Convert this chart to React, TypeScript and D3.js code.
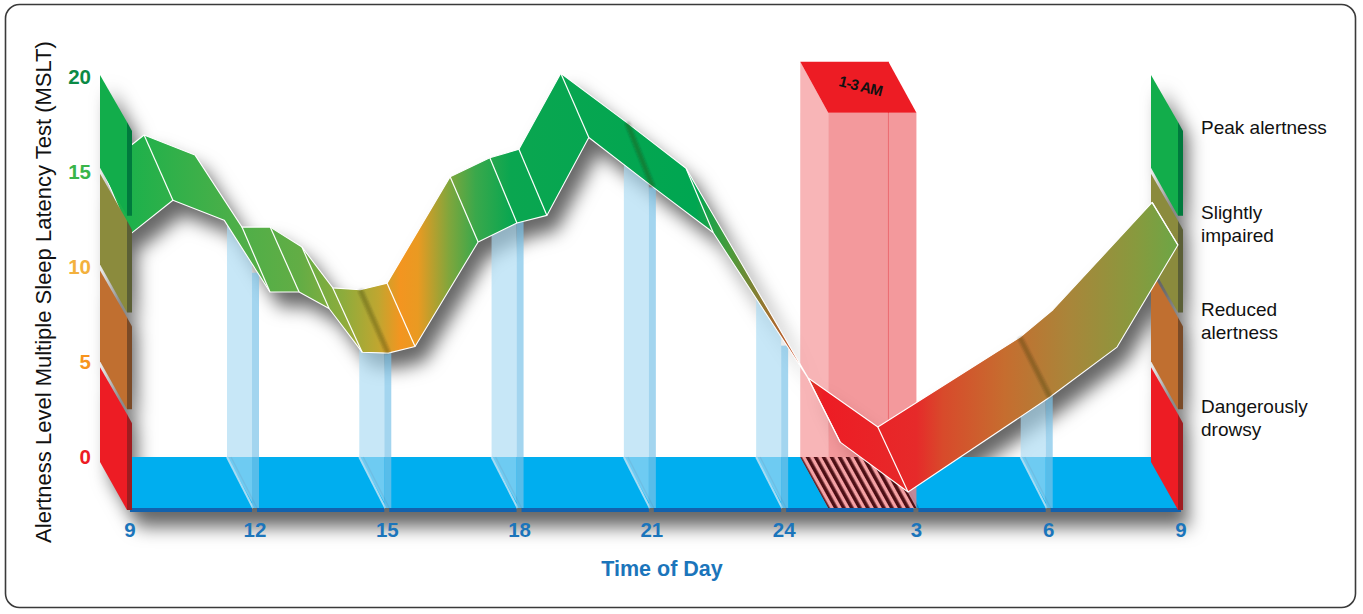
import React from 'react';
import * as d3 from 'd3';

// hours run from 9 in the morning to 33 (= 9 the next morning)
const hourTicks = [9, 12, 15, 18, 21, 24, 27, 30, 33];
const hourLabels = ['9', '12', '15', '18', '21', '24', '3', '6', '9'];
const pillarHours = [12, 15, 18, 21, 24, 30];
const nightWindow = [25, 27];
const nightLabel = '1-3 AM';
const nightTop = 20.8;

const levelTicks = [0, 5, 10, 15, 20];
const levelColors = ['#ed1c24', '#f7941d', '#f3b13d', '#39b54a', '#0b8a45'];

const zoneNames = [['Dangerously', 'drowsy'], ['Reduced', 'alertness'], ['Slightly', 'impaired'], ['Peak alertness']];
const zoneFace = ['#ed1c24', '#c06f30', '#8b8b3d', '#12ad4b'];
const zoneEdge = ['#a01c20', '#7a4a27', '#5b5f36', '#007a3d'];

// ribbon, back (upper) edge
const backHours = [9, 10.01, 11.23, 12.34, 12.98, 13.7, 14.4, 15.02, 15.63, 17.06, 17.96, 18.62, 19.57, 21.07, 22.41, 25.18, 26.76, 29.98, 30.73, 32.98];
const backLevel = [15.2, 16.95, 15.9, 12.1, 12.1, 11.05, 8.9, 8.8, 9.15, 14.75, 15.75, 16.2, 20.2, 17.6, 15.2, 4.16, 1.58, 6.3, 7.75, 13.4];
// ribbon, front (lower) edge
const frontHours = [9, 10.03, 11.26, 12.34, 13.0, 13.68, 14.43, 15.02, 15.63, 17.06, 17.94, 18.62, 19.57, 21.02, 22.39, 24.54, 25.27, 26.81, 30.03, 31.55, 32.93];
const frontLevel = [14.4, 16.2, 15.15, 11.37, 11.37, 10.5, 8.2, 8.15, 8.5, 14.0, 15.0, 15.4, 19.5, 16.9, 14.5, 6.84, 3.47, 0.84, 5.84, 8.47, 13.84];

// [back index, front index, kind] w = white fold, d = dark crease
const folds: [number, number, string][] = [
  [1, 1, 'w'], [3, 3, 'w'], [4, 4, 'w'], [5, 5, 'w'], [6, 6, 'w'], [7, 7, 'd'], [8, 8, 'w'],
  [9, 9, 'w'], [10, 10, 'w'], [11, 11, 'w'], [12, 12, 'w'], [13, 13, 'd'], [14, 14, 'w'],
  [15, 16, 'w'], [16, 17, 'w'], [17, 18, 'd'], [19, 20, 'w'],
];

const ribbonStops: [number, string][] = [
  [9, '#1db14b'], [11.5, '#4caf48'], [13, '#62ad45'], [14, '#8dac3c'], [14.8, '#c0a630'],
  [15.3, '#f39520'], [15.7, '#e99a22'], [16.4, '#80a63c'], [17, '#3aa84b'], [17.8, '#0aa650'],
  [22, '#00a651'], [22.8, '#4d9a3a'], [23.6, '#9a7430'], [24.4, '#d04a2a'], [24.9, '#ed1c24'],
  [27, '#e62a2a'], [27.6, '#d84a2b'], [29, '#c66d2f'], [30.5, '#a8863a'], [32, '#879a3e'], [33, '#6aa746'],
];

const FONT = "'Liberation Sans', Arial, Helvetica, sans-serif";
const BLUE = '#1b75bb';

type Pt = [number, number];

export default function App() {
  const width = 1363;
  const height = 614;

  const xFront = d3.scaleLinear().domain([9, 12, 33]).range([130, 255, 1181]);
  const xBack = (h: number) => xFront(h) - 28;
  const yFront = d3.scaleLinear().domain([0, 20]).range([508, 128]);
  const yBack = d3.scaleLinear().domain([0, 20]).range([457, 77]);
  const yWall = d3.scaleLinear().domain([0, 20]).range([462, 75]);

  const line = d3.line();
  const poly = (pts: Pt[]) => line(pts) + 'Z';

  const floorBack = yBack(0);
  const floorFront = yFront(0);

  const backPts: Pt[] = backHours.map((h, i) => [xBack(h), yBack(backLevel[i])]);
  const frontPts: Pt[] = frontHours.map((h, i) => [xFront(h), yFront(frontLevel[i])]);
  const ribbonPath = poly([...backPts, ...frontPts.slice().reverse()]);

  const bis = d3.bisector((p: Pt) => p[0]).left;
  const frontY = (x: number) => {
    const i = Math.max(1, Math.min(frontPts.length - 1, bis(frontPts, x)));
    const [x0, y0] = frontPts[i - 1];
    const [x1, y1] = frontPts[i];
    return y0 + ((y1 - y0) * (x - x0)) / (x1 - x0);
  };

  const gx0 = xBack(9);
  const gx1 = xFront(33);

  const floorPoly: Pt[] = [[xBack(9), floorBack], [xBack(33), floorBack], [xFront(33), floorFront], [xFront(9), floorFront]];

  const wallBands = (fx: number) =>
    levelTicks.slice(0, 4).map((v0, i) => {
      const v1 = levelTicks[i + 1];
      const top = yWall(v1) + (i < 3 ? 2 : 0);
      const bot = yWall(v0) - (i > 0 ? 4 : 0);
      const face: Pt[] = [[fx - 30, top], [fx - 3, top + 47], [fx - 3, bot + 48], [fx - 30, bot]];
      const edge: Pt[] = [[fx - 3, top + 47], [fx + 2, top + 56], [fx + 2, bot + 48], [fx - 3, bot + 48]];
      return { face, edge, i };
    });
  const leftWall = wallBands(xFront(9));
  const rightWall = wallBands(xFront(33));

  const [n0, n1] = nightWindow;
  const boxLeft: Pt[] = [[xBack(n0), yBack(nightTop)], [xFront(n0), yFront(nightTop)], [xFront(n0), floorFront], [xBack(n0), floorBack]];
  const boxFront: Pt[] = [[xFront(n0), yFront(nightTop)], [xFront(n1), yFront(nightTop)], [xFront(n1), floorFront], [xFront(n0), floorFront]];
  const boxTop: Pt[] = [[xBack(n0), yBack(nightTop)], [xBack(n1), yBack(nightTop)], [xFront(n1), yFront(nightTop)], [xFront(n0), yFront(nightTop)]];
  const hatchPoly: Pt[] = [[xBack(n0), floorBack], [xBack(n1), floorBack], [xFront(n1), floorFront], [xFront(n0), floorFront]];
  const labelX = (xBack(n0) + xBack(n1) + xFront(n0) + xFront(n1)) / 4;
  const labelY = (yBack(nightTop) + yFront(nightTop)) / 2;

  const slope = (floorFront - floorBack) / 28;

  return (
    <svg width={width} height={height} style={{ position: 'fixed', left: 0, top: 0, background: '#fff' }} fontFamily={FONT}>
      <defs>
        <filter id="shadow" x="-20%" y="-20%" width="150%" height="170%">
          <feGaussianBlur in="SourceAlpha" stdDeviation="9" />
          <feOffset dx="10" dy="15" result="b" />
          <feFlood floodColor="#000" floodOpacity="0.6" />
          <feComposite in2="b" operator="in" />
        </filter>
        <filter id="soft">
          <feGaussianBlur stdDeviation="1.2" />
        </filter>
        <linearGradient id="ribbonGrad" gradientUnits="userSpaceOnUse" x1={gx0} x2={gx1} y1={0} y2={0}>
          {ribbonStops.map(([h, c], i) => (
            <stop key={i} offset={(xFront(h) - gx0) / (gx1 - gx0)} stopColor={c} />
          ))}
        </linearGradient>
        <pattern id="hatch" width="7" height="7" patternUnits="userSpaceOnUse" patternTransform="rotate(-29)">
          <rect width="7" height="7" fill="#f5a1a4" />
          <rect width="3.6" height="7" fill="#4d0f15" />
        </pattern>
      </defs>

      <rect x={5.5} y={4.5} width={1350} height={603} rx={14} fill="#fff" stroke="#3a3a3a" strokeWidth={1.6} />

      {/* soft shadows */}
      <g filter="url(#shadow)">
        <path d={poly(floorPoly.map(([x, y]) => [x, y + 4] as Pt))} />
        {leftWall.map((b) => <path key={'ls' + b.i} d={poly(b.face)} />)}
        {rightWall.map((b) => <path key={'rs' + b.i} d={poly(b.face)} />)}
        <path d={ribbonPath} />
      </g>

      {/* floor */}
      <path d={poly(floorPoly)} fill="#00aeef" />
      {hourTicks.slice(0, -1).map((h0, i) => {
        const h1 = hourTicks[i + 1];
        const x0 = xFront(h0) + (i === 0 ? 0 : 2);
        const x1 = xFront(h1) - (i === hourTicks.length - 2 ? 0 : 3);
        return <rect key={'fs' + i} x={x0} y={floorFront} width={x1 - x0} height={4} fill="#1262ae" />;
      })}
      {hourTicks.slice(1, -1).map((h) => (
        <g key={'sl' + h}>
          <line x1={xBack(h) + 4} y1={floorBack} x2={xFront(h) + 2} y2={floorFront} stroke="rgba(0,60,110,0.3)" strokeWidth={1.3} />
          <line x1={xBack(h)} y1={floorBack} x2={xFront(h) - 2} y2={floorFront} stroke="#a6dcf4" strokeWidth={2} />
        </g>
      ))}

      {/* right wall (behind ribbon) */}
      {rightWall.map((b) => (
        <g key={'rw' + b.i}>
          <path d={poly(b.face)} fill={zoneFace[b.i]} />
          <path d={poly(b.edge)} fill={zoneEdge[b.i]} />
        </g>
      ))}

      {/* drop pillars */}
      {pillarHours.map((h) => {
        const xb = xBack(h);
        const xf = xFront(h);
        const side: Pt[] = [[xb, frontY(xb) - 2], [xf - 3, frontY(xf - 3) - 2], [xf - 3, floorBack + slope * 25], [xb, floorBack]];
        const top = frontY(xf + 4) - 2;
        return (
          <g key={'p' + h}>
            <path d={poly(side)} fill="#a9daf3" fillOpacity={0.65} />
            <rect x={xf - 3} y={top} width={7} height={floorFront - top} fill="#7cc3e8" fillOpacity={0.7} />
          </g>
        );
      })}

      {/* 1-3 AM box */}
      <path d={poly(boxLeft)} fill="#f6a2a5" fillOpacity={0.8} />
      <path d={poly(boxFront)} fill="#f07f83" fillOpacity={0.8} />
      <line x1={xBack(n1)} y1={yBack(nightTop)} x2={xBack(n1)} y2={floorBack} stroke="#ec6a70" strokeWidth={1} />
      <path d={poly(hatchPoly)} fill="url(#hatch)" />
      <path d={poly(boxTop)} fill="#ed1c24" />
      <text x={labelX + 2} y={labelY} transform={`rotate(14 ${labelX + 2} ${labelY})`} textAnchor="middle" dominantBaseline="middle"
        fontSize={15} fontWeight="bold" letterSpacing={-0.8} fill="#111">{nightLabel}</text>

      {/* ribbon */}
      <path d={ribbonPath} fill="url(#ribbonGrad)" stroke="#fff" strokeWidth={1.1} strokeLinejoin="round" />
      {folds.map(([bi, fi, kind], k) => (
        <line key={'f' + k} x1={backPts[bi][0]} y1={backPts[bi][1]} x2={frontPts[fi][0]} y2={frontPts[fi][1]}
          stroke={kind === 'w' ? '#fff' : 'rgba(40,40,0,0.3)'} strokeWidth={kind === 'w' ? 1.2 : 5}
          filter={kind === 'w' ? undefined : 'url(#soft)'} />
      ))}

      {/* left wall (in front) */}
      {leftWall.map((b) => (
        <g key={'lw' + b.i}>
          <path d={poly(b.face)} fill={zoneFace[b.i]} />
          <path d={poly(b.edge)} fill={zoneEdge[b.i]} />
        </g>
      ))}

      {/* y ticks */}
      {levelTicks.map((v, i) => (
        <text key={'yt' + v} x={91} y={yBack(v) + 7} textAnchor="end" fontSize={20.5} fontWeight="bold" fill={levelColors[i]}>{v}</text>
      ))}
      <text transform="translate(51,292) rotate(-90)" textAnchor="middle" fontSize={22} fill="#111">
        Alertness Level Multiple Sleep Latency Test (MSLT)
      </text>

      {/* x ticks */}
      {hourTicks.map((h, i) => (
        <text key={'xt' + i} x={xFront(h)} y={537} textAnchor="middle" fontSize={20.5} fontWeight="bold" fill={BLUE}>{hourLabels[i]}</text>
      ))}
      <text x={662} y={576} textAnchor="middle" fontSize={21.5} fontWeight="bold" fill={BLUE}>Time of Day</text>

      {/* zone labels */}
      {zoneNames.map((lines, i) => {
        const cy = yWall(levelTicks[i] + 2.5) + 4;
        const first = cy - ((lines.length - 1) * 23) / 2 + 6.5;
        return (
          <text key={'z' + i} x={1201} fontSize={19} fill="#111">
            {lines.map((t, j) => (
              <tspan key={j} x={1201} y={first + j * 23}>{t}</tspan>
            ))}
          </text>
        );
      })}
    </svg>
  );
}
